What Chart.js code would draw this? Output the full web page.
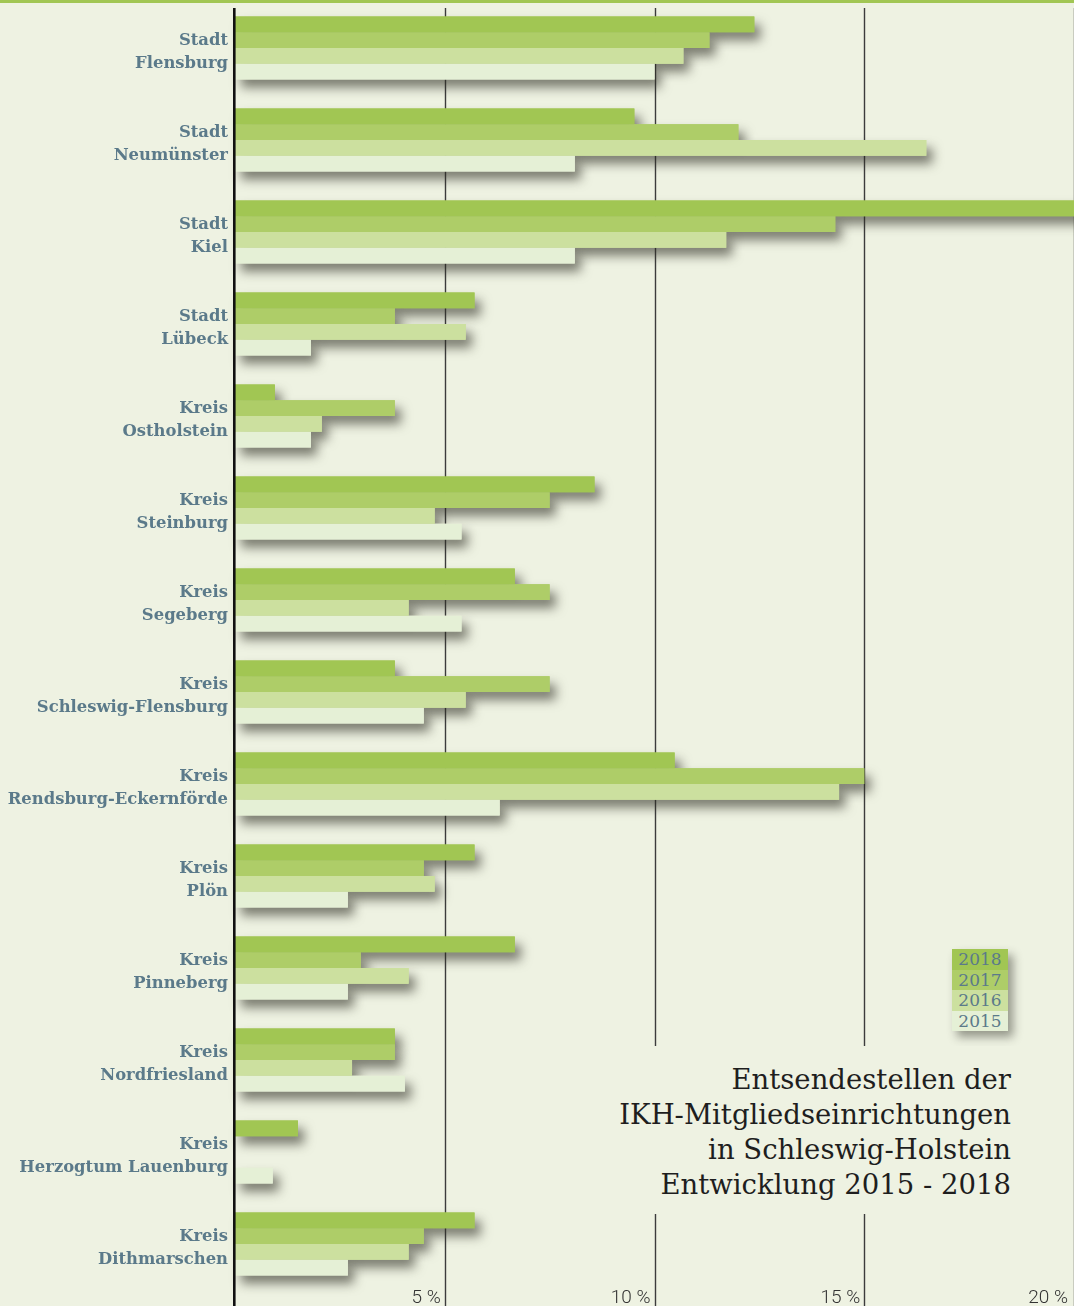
<!DOCTYPE html>
<html lang="de">
<head>
<meta charset="utf-8">
<title>Entsendestellen der IKH-Mitgliedseinrichtungen</title>
<script src="https://cdn.jsdelivr.net/npm/chart.js@4/dist/chart.umd.min.js"></script>
<style>
  html, body { margin: 0; padding: 0; }
  body { width: 1074px; height: 1306px; background: #eef2e2; position: relative; overflow: hidden; }
  #topline { position: absolute; left: 0; top: 0; width: 1074px; height: 3px; background: #a1c653; }
  #wrap { position: absolute; left: 0; top: 0; width: 1074px; height: 1306px; }
  #legende { position: absolute; left: 952px; top: 949px; width: 56px;
    box-shadow: 5px 6px 9px rgba(40, 40, 30, 0.45); }
  #legende div { height: 20.5px; line-height: 21px; text-align: center;
    font: 17px "DejaVu Serif", serif; color: #5b7a8a; }
  #titel { position: absolute; left: 600px; top: 1046px; width: 411px; height: 152px;
    padding: 16px 9px 0 0; box-sizing: content-box; background: #eef2e2;
    text-align: right; font: 27.5px/35px "DejaVu Serif", serif; color: #1e1e1e; }
</style>
</head>
<body>
<div id="topline"></div>
<div id="wrap"><canvas id="chart" width="1074" height="1306"></canvas></div>
<div id="legende"></div>
<div id="titel">Entsendestellen der<br>IKH-Mitgliedseinrichtungen<br>in Schleswig-Holstein<br>Entwicklung 2015 - 2018</div>
<script>
// ======================
// ENTSENDESTELLEN 2015 - 2018
// ======================

// ---------- dados ----------
const kategorien = [
  ["Stadt", "Flensburg"],
  ["Stadt", "Neumünster"],
  ["Stadt", "Kiel"],
  ["Stadt", "Lübeck"],
  ["Kreis", "Ostholstein"],
  ["Kreis", "Steinburg"],
  ["Kreis", "Segeberg"],
  ["Kreis", "Schleswig-Flensburg"],
  ["Kreis", "Rendsburg-Eckernförde"],
  ["Kreis", "Plön"],
  ["Kreis", "Pinneberg"],
  ["Kreis", "Nordfriesland"],
  ["Kreis", "Herzogtum Lauenburg"],
  ["Kreis", "Dithmarschen"],
];

const jahre = ["2018", "2017", "2016", "2015"];

// Anteile in %
const werte2018 = [12.38, 9.52, 20.5, 5.71, 0.95, 8.57, 6.67, 3.81, 10.48, 5.71, 6.67, 3.81, 1.5, 5.71];
const werte2017 = [11.31, 12.0, 14.31, 3.81, 3.81, 7.5, 7.5, 7.5, 15.0, 4.5, 3.0, 3.81, 0, 4.5];
const werte2016 = [10.69, 16.48, 11.71, 5.5, 2.07, 4.76, 4.14, 5.5, 14.4, 4.76, 4.14, 2.79, 0, 4.14];
const werte2015 = [10.0, 8.1, 8.1, 1.81, 1.81, 5.4, 5.4, 4.5, 6.31, 2.69, 2.69, 4.05, 0.9, 2.69];

const achsenTicks = [5, 10, 15, 20];

const farben = ["#a1c653", "#aecd68", "#cce09f", "#e5f0d6"];
const labelFarbe = "#5b7a8a";

// ---------- legenda ----------
const legende = document.getElementById("legende");
jahre.forEach((jahr, i) => {
  const d = document.createElement("div");
  d.textContent = jahr;
  d.style.background = farben[i];
  legende.appendChild(d);
});

// ---------- plugin: grade, sombra e eixo ----------
const rasterPlugin = {
  id: "raster",
  beforeDatasetsDraw(chart) {
    const { ctx } = chart;
    const x = chart.scales.x;
    ctx.save();
    ctx.strokeStyle = "#3c3c3c";
    ctx.lineWidth = 1.4;
    achsenTicks.forEach((v) => {
      const px = Math.round(x.getPixelForValue(v)) + 0.5;
      ctx.beginPath();
      ctx.moveTo(px, 8);
      ctx.lineTo(px, 1306);
      ctx.stroke();
    });
    ctx.restore();

    // sombra: primeira passada das barras, depois o desenho normal cobre as barras
    ctx.save();
    ctx.shadowColor = "rgba(45, 45, 35, 0.6)";
    ctx.shadowBlur = 11;
    ctx.shadowOffsetX = 6;
    ctx.shadowOffsetY = 8;
    chart.getSortedVisibleDatasetMetas().forEach((meta) => {
      meta.data.forEach((el) => el.draw(ctx));
    });
    ctx.restore();
  },
  afterDatasetsDraw(chart) {
    const { ctx } = chart;
    const x = chart.scales.x;
    ctx.save();
    // eixo zero
    ctx.fillStyle = "#111111";
    ctx.fillRect(x.getPixelForValue(0) - 2, 8, 2.6, 1298);
    // rótulos do eixo x
    ctx.fillStyle = "#333333";
    ctx.font = "300 19px Roboto, sans-serif";
    ctx.textAlign = "right";
    ctx.textBaseline = "alphabetic";
    achsenTicks.forEach((v) => {
      const px = x.getPixelForValue(v);
      ctx.fillText(v + " %", Math.min(px - 4, 1068), 1303);
    });
    ctx.restore();
  },
};

// ---------- gráfico ----------
const ctx = document.getElementById("chart").getContext("2d");
new Chart(ctx, {
  type: "bar",
  data: {
    labels: kategorien,
    datasets: [
      { label: jahre[0], data: werte2018, backgroundColor: farben[0] },
      { label: jahre[1], data: werte2017, backgroundColor: farben[1] },
      { label: jahre[2], data: werte2016, backgroundColor: farben[2] },
      { label: jahre[3], data: werte2015, backgroundColor: farben[3] },
    ],
  },
  options: {
    indexAxis: "y",
    responsive: false,
    animation: false,
    devicePixelRatio: 1,
    layout: { padding: { top: 2, bottom: 16, left: 0, right: 0 } },
    datasets: {
      bar: { categoryPercentage: 0.685, barPercentage: 1.0, borderWidth: 0 },
    },
    scales: {
      x: {
        min: 0,
        max: 20,
        display: false,
      },
      y: {
        afterFit(scale) {
          scale.width = 235;
          scale.paddingTop = 0;
          scale.paddingBottom = 0;
        },
        grid: { display: false, drawTicks: false },
        border: { display: false },
        ticks: {
          color: labelFarbe,
          padding: 7,
          labelOffset: 4,
          font: { family: "DejaVu Serif", weight: "bold", size: 16.4, lineHeight: 1.4 },
        },
      },
    },
    plugins: {
      legend: { display: false },
      tooltip: { enabled: false },
    },
  },
  plugins: [rasterPlugin],
});
</script>
</body>
</html>
